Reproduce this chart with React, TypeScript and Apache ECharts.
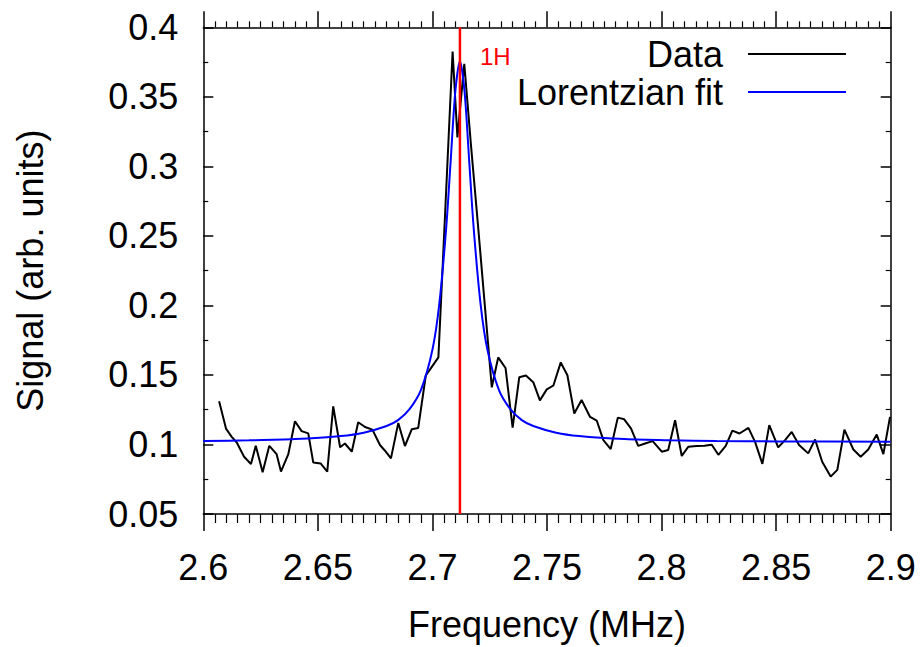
import React, { useEffect, useRef } from "react";
import * as echarts from "echarts";

// Measured data (frequency in MHz, signal in arb. units)
const dataFreq = [
  2.6069, 2.6099, 2.6124, 2.6146, 2.6178, 2.6208, 2.6229, 2.6259, 2.6288, 2.632,
  2.6339, 2.6371, 2.64, 2.6429, 2.6458, 2.648, 2.6512, 2.6541, 2.6567, 2.6597,
  2.6618, 2.6648, 2.6676, 2.6706, 2.6738, 2.6771, 2.6793, 2.6819, 2.6851, 2.688,
  2.691, 2.6938, 2.6971, 2.6998, 2.7026, 2.7057, 2.7088, 2.7109, 2.7139, 2.7168,
  2.7199, 2.7229, 2.7259, 2.7287, 2.7319, 2.735, 2.7379, 2.7408, 2.744, 2.7469,
  2.7499, 2.7528, 2.756, 2.7589, 2.7619, 2.7651, 2.7688, 2.7717, 2.7746, 2.7778,
  2.7809, 2.7837, 2.7867, 2.7898, 2.7928, 2.7961, 2.8001, 2.8029, 2.8059, 2.8088,
  2.8117, 2.8153, 2.8187, 2.8219, 2.8248, 2.828, 2.8309, 2.834, 2.8379, 2.8408,
  2.844, 2.847, 2.8509, 2.8539, 2.8568, 2.86, 2.864, 2.867, 2.8701, 2.8738,
  2.8767, 2.8798, 2.8837, 2.8869, 2.8902, 2.8939, 2.8968, 2.8997,
];
const dataSignal = [
  0.131, 0.1114, 0.1055, 0.1014, 0.0912, 0.086, 0.099, 0.08, 0.099, 0.093,
  0.0805, 0.093, 0.1167, 0.1096, 0.108, 0.087, 0.0864, 0.0805, 0.1274, 0.098,
  0.1007, 0.0948, 0.116, 0.1126, 0.1107, 0.0996, 0.0955, 0.09, 0.1155, 0.0989,
  0.111, 0.1119, 0.1496, 0.156, 0.1626, 0.272, 0.3826, 0.3208, 0.3738, 0.3156,
  0.2574, 0.1993, 0.1411, 0.1626, 0.155, 0.1121, 0.1484, 0.1496, 0.1448, 0.1317,
  0.1396, 0.1424, 0.159, 0.1498, 0.1223, 0.132, 0.1198, 0.1172, 0.1031, 0.0967,
  0.1193, 0.1181, 0.1114, 0.099, 0.1007, 0.1024, 0.0948, 0.096, 0.1174, 0.0917,
  0.0984, 0.0989, 0.099, 0.0998, 0.0926, 0.099, 0.11, 0.1079, 0.1119, 0.1019,
  0.086, 0.1139, 0.0979, 0.1031, 0.109, 0.0996, 0.0936, 0.1036, 0.0876, 0.0769,
  0.0817, 0.1107, 0.0964, 0.0912, 0.0964, 0.1071, 0.0931, 0.1198,
];

// Lorentzian fit curve
const fitFreq = [
  2.6, 2.62, 2.64, 2.66, 2.67, 2.68, 2.685, 2.69, 2.695, 2.7, 2.703, 2.706, 2.708,
  2.71, 2.712, 2.714, 2.716, 2.718, 2.721, 2.724, 2.729, 2.734, 2.739, 2.744,
  2.754, 2.764, 2.784, 2.804, 2.824, 2.85, 2.9,
];
const fitSignal = [
  0.1025, 0.103, 0.1039, 0.1061, 0.1085, 0.1133, 0.1175, 0.1254, 0.1393, 0.1681,
  0.2011, 0.2556, 0.305, 0.354, 0.3755, 0.354, 0.305, 0.2556, 0.2011, 0.1681,
  0.1393, 0.1254, 0.1175, 0.1133, 0.1085, 0.1061, 0.1039, 0.103, 0.1025, 0.1022,
  0.1019,
];

const markerFreq = 2.712;
const markerLabel = "1H";

const xRange = [2.6, 2.9];
const yRange = [0.05, 0.4];
const tickStep = 0.05;

const seriesNames = ["Data", "Lorentzian fit"];
const xTitle = "Frequency (MHz)";
const yTitle = "Signal (arb. units)";

const FONT = "'Liberation Sans', Arial, Helvetica, sans-serif";

const fmt = (v: number) => String(parseFloat(v.toFixed(3)));

export default function App() {
  const ref = useRef<HTMLDivElement>(null);
  useEffect(() => {
    if (!ref.current) return;
    const chart = echarts.init(ref.current, undefined, { renderer: "svg" });
    const lineBlack = { color: "#000", width: 1.5 };
    const xCommon = {
      type: "value" as const,
      min: xRange[0],
      max: xRange[1],
      interval: tickStep,
      splitLine: { show: false },
      axisLine: { show: true, onZero: false, lineStyle: lineBlack },
    };
    const yCommon = {
      type: "value" as const,
      min: yRange[0],
      max: yRange[1],
      interval: tickStep,
      splitLine: { show: false },
      axisLine: { show: true, onZero: false, lineStyle: lineBlack },
      axisTick: { show: true, inside: true, length: 10, lineStyle: lineBlack },
      minorTick: { show: true, splitNumber: 2, length: 5, lineStyle: { color: "#000", width: 1.2 } },
    };
    chart.setOption({
      animation: false,
      backgroundColor: "#fff",
      textStyle: { fontFamily: FONT },
      grid: { left: 203.3, top: 27.3, right: 33.3, bottom: 129.3, containLabel: false },
      xAxis: [
        {
          ...xCommon,
          position: "bottom",
          axisTick: { show: true, inside: false, length: 17, lineStyle: lineBlack },
          minorTick: { show: true, splitNumber: 10, length: 9, lineStyle: { color: "#000", width: 1.2 } },
          axisLabel: {
            show: true,
            fontSize: 36,
            color: "#000",
            fontFamily: FONT,
            margin: 35,
            showMinLabel: true,
            showMaxLabel: true,
            formatter: fmt,
          },
          name: xTitle,
          nameLocation: "middle",
          nameGap: 92,
          nameTextStyle: { fontSize: 36, color: "#000", fontFamily: FONT },
        },
        {
          ...xCommon,
          position: "top",
          axisTick: { show: true, inside: false, length: 16, lineStyle: lineBlack },
          minorTick: { show: true, splitNumber: 10, length: 6, lineStyle: { color: "#000", width: 1.2 } },
          axisLabel: { show: false },
        },
      ],
      yAxis: [
        {
          ...yCommon,
          position: "left",
          axisLabel: {
            show: true,
            fontSize: 36,
            color: "#000",
            fontFamily: FONT,
            margin: 25,
            showMinLabel: true,
            showMaxLabel: true,
            formatter: fmt,
          },
          name: yTitle,
          nameLocation: "middle",
          nameGap: 155,
          nameTextStyle: { fontSize: 36, color: "#000", fontFamily: FONT },
        },
        {
          ...yCommon,
          position: "right",
          axisLabel: { show: false },
        },
      ],
      series: [
        {
          name: seriesNames[0],
          type: "line",
          xAxisIndex: 0,
          yAxisIndex: 0,
          symbol: "none",
          data: dataFreq.map((f, i) => [f, dataSignal[i]]),
          lineStyle: { color: "#000", width: 2 },
          z: 2,
        },
        {
          name: seriesNames[1],
          type: "line",
          xAxisIndex: 0,
          yAxisIndex: 0,
          symbol: "none",
          smooth: 0.3,
          data: fitFreq.map((f, i) => [f, fitSignal[i]]),
          lineStyle: { color: "#0000ff", width: 2 },
          z: 3,
        },
        {
          name: markerLabel,
          type: "line",
          xAxisIndex: 0,
          yAxisIndex: 0,
          symbol: "none",
          data: [
            [markerFreq, yRange[0]],
            [markerFreq, yRange[1]],
          ],
          lineStyle: { color: "#ff0000", width: 2.5 },
          z: 4,
        },
      ],
      graphic: [
        {
          type: "text",
          x: 480,
          y: 56,
          style: {
            text: markerLabel,
            fill: "#ff0000",
            fontSize: 24,
            fontFamily: FONT,
            textAlign: "left",
            textVerticalAlign: "middle",
          },
          z: 10,
        },
        {
          type: "text",
          x: 723,
          y: 54,
          style: {
            text: seriesNames[0],
            fill: "#000",
            fontSize: 36,
            fontFamily: FONT,
            textAlign: "right",
            textVerticalAlign: "middle",
          },
          z: 10,
        },
        {
          type: "line",
          shape: { x1: 748, y1: 54, x2: 846, y2: 54 },
          style: { stroke: "#000", lineWidth: 2 },
          z: 10,
        },
        {
          type: "text",
          x: 723,
          y: 92,
          style: {
            text: seriesNames[1],
            fill: "#000",
            fontSize: 36,
            fontFamily: FONT,
            textAlign: "right",
            textVerticalAlign: "middle",
          },
          z: 10,
        },
        {
          type: "line",
          shape: { x1: 748, y1: 92, x2: 846, y2: 92 },
          style: { stroke: "#0000ff", lineWidth: 2 },
          z: 10,
        },
      ],
    });
    return () => chart.dispose();
  }, []);
  return (
    <div
      ref={ref}
      style={{ position: "absolute", left: 0, top: 0, width: 924, height: 647, background: "#fff" }}
    />
  );
}
